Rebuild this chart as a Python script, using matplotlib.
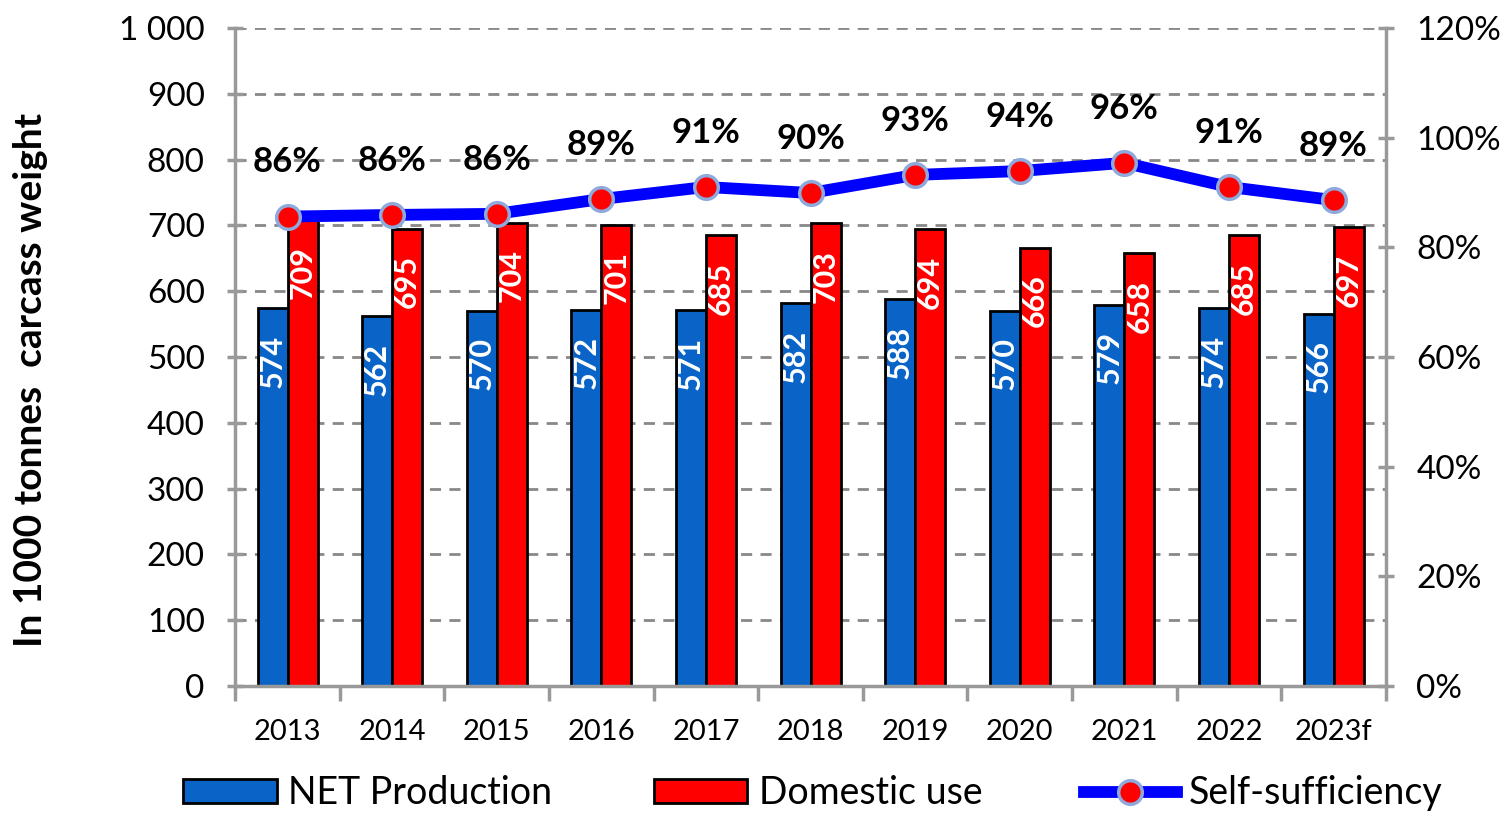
import matplotlib.pyplot as plt
import numpy as np
from matplotlib.patches import Patch
from matplotlib.lines import Line2D
from matplotlib.ticker import FuncFormatter

plt.rcParams['font.family'] = ['Lato', 'DejaVu Sans']

years = ["2013", "2014", "2015", "2016", "2017", "2018", "2019", "2020", "2021", "2022", "2023f"]
net_production = [574, 562, 570, 572, 571, 582, 588, 570, 579, 574, 566]
domestic_use = [709, 695, 704, 701, 685, 703, 694, 666, 658, 685, 697]
# Selbstversorgungsgrad (Position der Marker, Beschriftung gerundet)
self_sufficiency = [85.6, 85.9, 86.1, 88.8, 91.0, 89.9, 93.2, 93.9, 95.4, 91.0, 88.6]
ss_labels = ["86%", "86%", "86%", "89%", "91%", "90%", "93%", "94%", "96%", "91%", "89%"]

blue = "#0a64c8"
red = "#ff0000"
grey = "#999999"

fig = plt.figure(figsize=(15.08, 8.22), dpi=100)
ax = fig.add_axes([0.156, 0.1655, 0.763, 0.8005])

x = np.arange(len(years))
w = 0.287

bars_net = ax.bar(x - w / 2, net_production, w, color=blue, edgecolor="black", linewidth=2, zorder=2)
bars_dom = ax.bar(x + w / 2, domestic_use, w, color=red, edgecolor="black", linewidth=2, zorder=2)

# Werte innerhalb der Balken
for bars, vals in [(bars_net, net_production), (bars_dom, domestic_use)]:
    for b, v in zip(bars, vals):
        ax.annotate(str(v), (b.get_x() + b.get_width() / 2, v), xytext=(0, -19),
                    textcoords="offset points", rotation=90, ha="center", va="top",
                    color="white", fontsize=22, fontweight="bold", zorder=3)

ax.set_xlim(-0.5, len(years) - 0.5)
ax.set_ylim(0, 1000)
ax.set_yticks(np.arange(0, 1001, 100))
ax.yaxis.set_major_formatter(FuncFormatter(lambda v, p: f"{int(v):,}".replace(",", " ")))
ax.set_xticks(x)
ax.set_xticklabels(years)
ax.set_xticks(np.arange(-0.5, len(years), 1), minor=True)
ax.tick_params(axis="x", which="major", length=0, pad=24, labelsize=21)
ax.tick_params(axis="x", which="minor", length=11, width=2.5, color=grey, direction="out")
ax.tick_params(axis="y", length=12, width=2.5, color=grey, direction="inout", pad=16, labelsize=24)

ax.grid(axis="y", linestyle=(0, (4, 3)), color="#888888", linewidth=2)
ax.set_axisbelow(True)
for side in ["left", "bottom", "right"]:
    ax.spines[side].set_color(grey)
    ax.spines[side].set_linewidth(2.5)
ax.spines["top"].set_visible(False)

ax.set_ylabel("In 1000 tonnes  carcass weight", fontsize=28, fontweight="bold")
ax.yaxis.set_label_coords(-0.163, 0.465)

ax2 = ax.twinx()
ax2.set_ylim(0, 120)
ax2.set_yticks(np.arange(0, 121, 20))
ax2.yaxis.set_major_formatter(FuncFormatter(lambda v, p: f"{int(v)}%"))
ax2.tick_params(axis="y", length=12, width=2.5, color=grey, direction="inout", pad=16, labelsize=24)
for s in ax2.spines.values():
    s.set_visible(False)

ax2.plot(x, self_sufficiency, color="#0000ff", linewidth=8.5, solid_capstyle="round",
         marker="o", markersize=17, markerfacecolor=red, markeredgecolor="#8ea9db",
         markeredgewidth=2.5, zorder=4)

for xi, v, lab in zip(x, self_sufficiency, ss_labels):
    ax2.annotate(lab, (xi, v), xytext=(0, 39), textcoords="offset points",
                 ha="center", va="center", fontsize=25, fontweight="bold", color="black")

handles = [
    Patch(facecolor=blue, edgecolor="black", linewidth=2),
    Patch(facecolor=red, edgecolor="black", linewidth=2),
    Line2D([0], [0], color="#0000ff", linewidth=8.5, marker="o", markersize=17,
           markerfacecolor=red, markeredgecolor="#8ea9db", markeredgewidth=2.5),
]
fig.legend(handles, ["NET Production", "Domestic use", "Self-sufficiency"],
           loc="lower center", bbox_to_anchor=(0.539, -0.028), ncol=3, frameon=False,
           fontsize=27, handlelength=2.5, handleheight=0.6, handletextpad=0.3,
           columnspacing=2.7)

fig.savefig("out.png", dpi=100)
